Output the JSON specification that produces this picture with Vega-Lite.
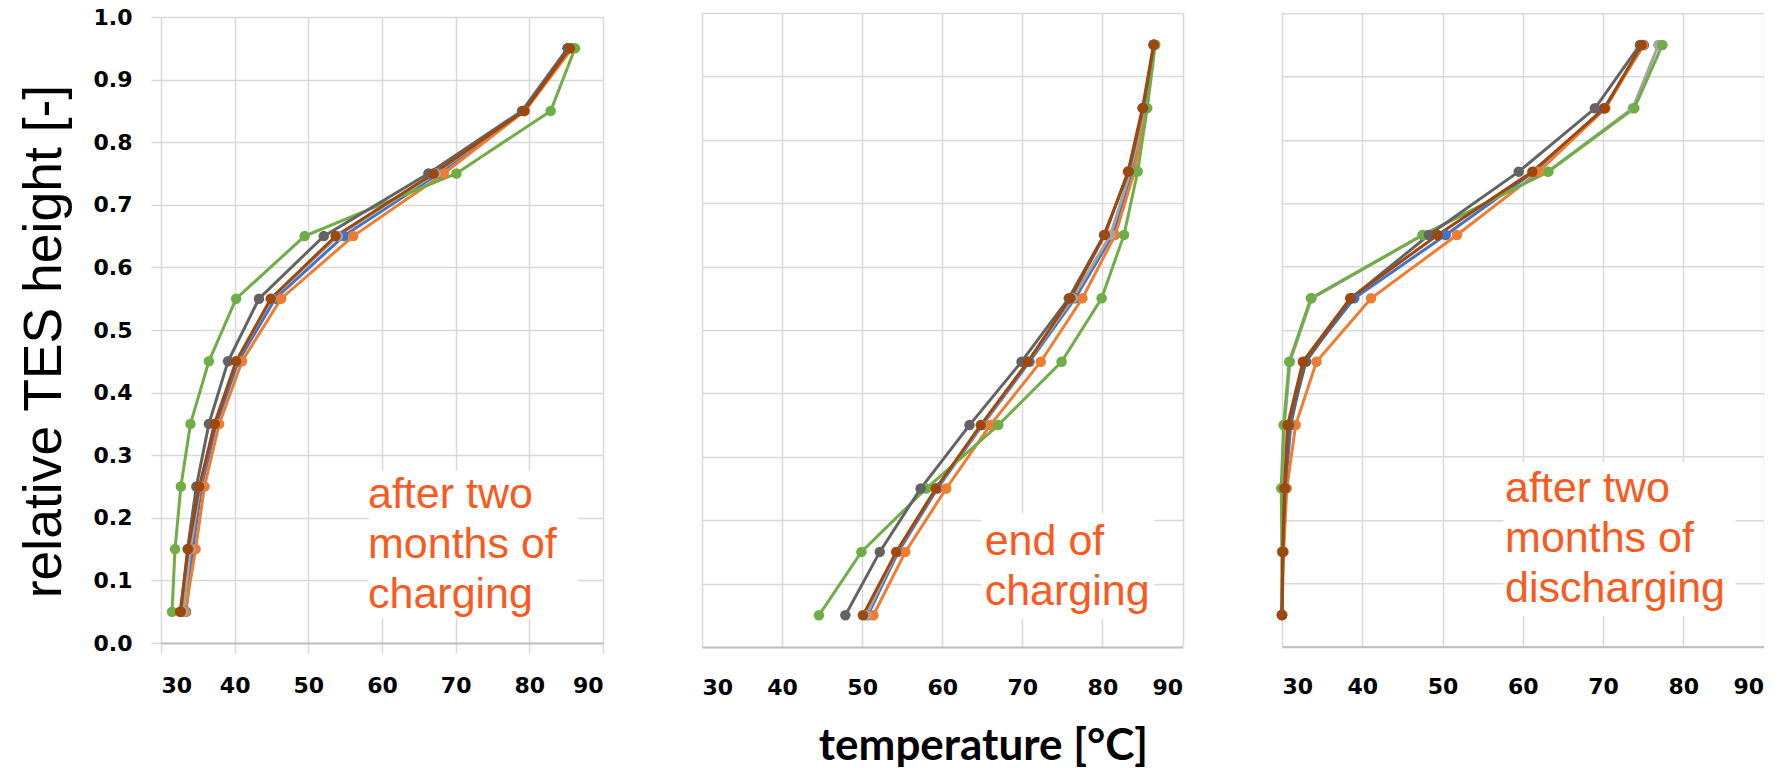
{
  "$schema": "https://vega.github.io/schema/vega-lite/v6.json",
  "background": "white",
  "padding": {"left": 17, "top": 6, "right": 0, "bottom": 0},
  "bounds": "flush",
  "center": true,
  "spacing": 99,
  "datasets": {
    "p1": [
      {"s":"S1","h":0.05,"t":33.4},{"s":"S1","h":0.15,"t":34.3},{"s":"S1","h":0.25,"t":35.5},{"s":"S1","h":0.35,"t":37.5},{"s":"S1","h":0.45,"t":40.5},{"s":"S1","h":0.55,"t":45.5},{"s":"S1","h":0.65,"t":54.8},{"s":"S1","h":0.75,"t":67.7},{"s":"S1","h":0.85,"t":79.2},{"s":"S1","h":0.95,"t":85.2},
      {"s":"S2","h":0.05,"t":33.3},{"s":"S2","h":0.15,"t":34.7},{"s":"S2","h":0.25,"t":35.9},{"s":"S2","h":0.35,"t":37.9},{"s":"S2","h":0.45,"t":41.0},{"s":"S2","h":0.55,"t":46.3},{"s":"S2","h":0.65,"t":56.1},{"s":"S2","h":0.75,"t":68.4},{"s":"S2","h":0.85,"t":79.4},{"s":"S2","h":0.95,"t":85.8},
      {"s":"S3","h":0.05,"t":33.0},{"s":"S3","h":0.15,"t":34.0},{"s":"S3","h":0.25,"t":35.3},{"s":"S3","h":0.35,"t":37.2},{"s":"S3","h":0.45,"t":40.2},{"s":"S3","h":0.55,"t":45.0},{"s":"S3","h":0.65,"t":54.0},{"s":"S3","h":0.75,"t":67.3},{"s":"S3","h":0.85,"t":79.2},{"s":"S3","h":0.95,"t":85.3},
      {"s":"S4","h":0.05,"t":31.5},{"s":"S4","h":0.15,"t":31.9},{"s":"S4","h":0.25,"t":32.7},{"s":"S4","h":0.35,"t":34.0},{"s":"S4","h":0.45,"t":36.5},{"s":"S4","h":0.55,"t":40.2},{"s":"S4","h":0.65,"t":49.5},{"s":"S4","h":0.75,"t":70.1},{"s":"S4","h":0.85,"t":82.9},{"s":"S4","h":0.95,"t":86.2},
      {"s":"S5","h":0.05,"t":32.7},{"s":"S5","h":0.15,"t":33.6},{"s":"S5","h":0.25,"t":34.8},{"s":"S5","h":0.35,"t":36.5},{"s":"S5","h":0.45,"t":39.1},{"s":"S5","h":0.55,"t":43.3},{"s":"S5","h":0.65,"t":52.1},{"s":"S5","h":0.75,"t":66.3},{"s":"S5","h":0.85,"t":79.0},{"s":"S5","h":0.95,"t":85.2},
      {"s":"S6","h":0.05,"t":32.6},{"s":"S6","h":0.15,"t":33.7},{"s":"S6","h":0.25,"t":35.2},{"s":"S6","h":0.35,"t":37.3},{"s":"S6","h":0.45,"t":40.2},{"s":"S6","h":0.55,"t":44.9},{"s":"S6","h":0.65,"t":53.7},{"s":"S6","h":0.75,"t":67.0},{"s":"S6","h":0.85,"t":79.3},{"s":"S6","h":0.95,"t":85.5}
    ],
    "p2": [
      {"s":"S1","h":0.05,"t":50.7},{"s":"S1","h":0.15,"t":54.5},{"s":"S1","h":0.25,"t":59.4},{"s":"S1","h":0.35,"t":65.0},{"s":"S1","h":0.45,"t":70.9},{"s":"S1","h":0.55,"t":76.6},{"s":"S1","h":0.65,"t":81.3},{"s":"S1","h":0.75,"t":83.8},{"s":"S1","h":0.85,"t":85.3},{"s":"S1","h":0.95,"t":86.4},
      {"s":"S2","h":0.05,"t":51.4},{"s":"S2","h":0.15,"t":55.4},{"s":"S2","h":0.25,"t":60.5},{"s":"S2","h":0.35,"t":66.0},{"s":"S2","h":0.45,"t":72.3},{"s":"S2","h":0.55,"t":77.5},{"s":"S2","h":0.65,"t":81.6},{"s":"S2","h":0.75,"t":84.0},{"s":"S2","h":0.85,"t":85.4},{"s":"S2","h":0.95,"t":86.5},
      {"s":"S3","h":0.05,"t":50.5},{"s":"S3","h":0.15,"t":54.3},{"s":"S3","h":0.25,"t":59.2},{"s":"S3","h":0.35,"t":64.9},{"s":"S3","h":0.45,"t":70.7},{"s":"S3","h":0.55,"t":76.3},{"s":"S3","h":0.65,"t":81.0},{"s":"S3","h":0.75,"t":83.5},{"s":"S3","h":0.85,"t":85.2},{"s":"S3","h":0.95,"t":86.4},
      {"s":"S4","h":0.05,"t":44.6},{"s":"S4","h":0.15,"t":49.9},{"s":"S4","h":0.25,"t":58.0},{"s":"S4","h":0.35,"t":67.0},{"s":"S4","h":0.45,"t":74.9},{"s":"S4","h":0.55,"t":79.9},{"s":"S4","h":0.65,"t":82.7},{"s":"S4","h":0.75,"t":84.4},{"s":"S4","h":0.85,"t":85.6},{"s":"S4","h":0.95,"t":86.6},
      {"s":"S5","h":0.05,"t":47.9},{"s":"S5","h":0.15,"t":52.2},{"s":"S5","h":0.25,"t":57.3},{"s":"S5","h":0.35,"t":63.4},{"s":"S5","h":0.45,"t":69.9},{"s":"S5","h":0.55,"t":75.8},{"s":"S5","h":0.65,"t":80.2},{"s":"S5","h":0.75,"t":83.3},{"s":"S5","h":0.85,"t":85.1},{"s":"S5","h":0.95,"t":86.4},
      {"s":"S6","h":0.05,"t":50.1},{"s":"S6","h":0.15,"t":54.25},{"s":"S6","h":0.25,"t":59.2},{"s":"S6","h":0.35,"t":64.8},{"s":"S6","h":0.45,"t":70.7},{"s":"S6","h":0.55,"t":76.0},{"s":"S6","h":0.65,"t":80.3},{"s":"S6","h":0.75,"t":83.2},{"s":"S6","h":0.85,"t":85.0},{"s":"S6","h":0.95,"t":86.4}
    ],
    "p3": [
      {"s":"S1","h":0.05,"t":30.0},{"s":"S1","h":0.15,"t":30.1},{"s":"S1","h":0.25,"t":30.4},{"s":"S1","h":0.35,"t":31.1},{"s":"S1","h":0.45,"t":32.8},{"s":"S1","h":0.55,"t":39.0},{"s":"S1","h":0.65,"t":50.4},{"s":"S1","h":0.75,"t":61.4},{"s":"S1","h":0.85,"t":70.1},{"s":"S1","h":0.95,"t":75.1},
      {"s":"S2","h":0.05,"t":30.0},{"s":"S2","h":0.15,"t":30.2},{"s":"S2","h":0.25,"t":30.6},{"s":"S2","h":0.35,"t":31.7},{"s":"S2","h":0.45,"t":34.3},{"s":"S2","h":0.55,"t":41.1},{"s":"S2","h":0.65,"t":51.8},{"s":"S2","h":0.75,"t":62.0},{"s":"S2","h":0.85,"t":70.3},{"s":"S2","h":0.95,"t":75.0},
      {"s":"S3","h":0.05,"t":30.0},{"s":"S3","h":0.15,"t":30.0},{"s":"S3","h":0.25,"t":30.0},{"s":"S3","h":0.35,"t":30.3},{"s":"S3","h":0.45,"t":31.0},{"s":"S3","h":0.55,"t":33.7},{"s":"S3","h":0.65,"t":47.6},{"s":"S3","h":0.75,"t":63.1},{"s":"S3","h":0.85,"t":73.7},{"s":"S3","h":0.95,"t":76.9},
      {"s":"S4","h":0.05,"t":30.0},{"s":"S4","h":0.15,"t":30.0},{"s":"S4","h":0.25,"t":29.9},{"s":"S4","h":0.35,"t":30.2},{"s":"S4","h":0.45,"t":30.9},{"s":"S4","h":0.55,"t":33.6},{"s":"S4","h":0.65,"t":47.5},{"s":"S4","h":0.75,"t":63.2},{"s":"S4","h":0.85,"t":73.9},{"s":"S4","h":0.95,"t":77.4},
      {"s":"S5","h":0.05,"t":30.0},{"s":"S5","h":0.15,"t":30.1},{"s":"S5","h":0.25,"t":30.4},{"s":"S5","h":0.35,"t":30.9},{"s":"S5","h":0.45,"t":33.0},{"s":"S5","h":0.55,"t":38.6},{"s":"S5","h":0.65,"t":48.3},{"s":"S5","h":0.75,"t":59.5},{"s":"S5","h":0.85,"t":69.0},{"s":"S5","h":0.95,"t":74.6},
      {"s":"S6","h":0.05,"t":30.0},{"s":"S6","h":0.15,"t":30.1},{"s":"S6","h":0.25,"t":30.3},{"s":"S6","h":0.35,"t":30.7},{"s":"S6","h":0.45,"t":32.6},{"s":"S6","h":0.55,"t":38.5},{"s":"S6","h":0.65,"t":49.4},{"s":"S6","h":0.75,"t":61.2},{"s":"S6","h":0.85,"t":70.2},{"s":"S6","h":0.95,"t":74.8}
    ],
    "ann1": [{"x1": 58.2, "x2": 86.6, "y1": 0.04, "y2": 0.275, "tx": 58.1, "ty": 0.216, "label": "after two\nmonths of\ncharging"}],
    "ann2": [{"x1": 64.9, "x2": 86.5, "y1": 0.044, "y2": 0.211, "tx": 65.3, "ty": 0.145, "label": "end of\ncharging"}],
    "ann3": [{"x1": 57.6, "x2": 86.5, "y1": 0.048, "y2": 0.292, "tx": 57.8, "ty": 0.228, "label": "after two\nmonths of\ndischarging"}]
  },
  "config": {
    "view": {"stroke": null},
    "axis": {
      "gridColor": "#D9D9D9",
      "gridWidth": 1.5,
      "labelFont": "DejaVu Sans",
      "labelFontWeight": "bold",
      "labelFontSize": 22,
      "labelColor": "#000000"
    },
    "line": {"strokeWidth": 3},
    "point": {"filled": true, "size": 110, "opacity": 1}
  },
  "hconcat": [
    {
      "width": 442,
      "height": 626,
      "layer": [
        {
          "data": {"name": "ann1"},
          "mark": {"type": "rect", "fill": "white"},
          "encoding": {
            "x": {"field": "x1", "type": "quantitative"},
            "x2": {"field": "x2"},
            "y": {"field": "y1", "type": "quantitative"},
            "y2": {"field": "y2"}
          }
        },
        {
          "data": {"name": "p1"},
          "mark": "line",
          "encoding": {
            "x": {"field": "t", "type": "quantitative", "scale": {"domain": [30, 90], "nice": false, "zero": false},
              "axis": {"values": [30,40,50,60,70,80,90], "title": null, "domainColor": "#BFBFBF", "domainWidth": 2, "ticks": true, "tickColor": "#D9D9D9", "tickWidth": 1.5, "tickSize": 10, "labelPadding": 22}},
            "y": {"field": "h", "type": "quantitative", "scale": {"domain": [0, 1], "nice": false},
              "axis": {"values": [0,0.1,0.2,0.3,0.4,0.5,0.6,0.7,0.8,0.9,1.0], "format": ".1f", "domain": false, "ticks": true, "tickColor": "#D9D9D9", "tickWidth": 1.5, "tickSize": 10, "labelPadding": 19,
                "title": "relative TES height [-]", "titleFont": "Liberation Sans", "titleFontSize": 53.5, "titleFontWeight": "normal", "titleColor": "#000000", "titlePadding": 22, "titleY": 324}},
            "color": {"field": "s", "type": "nominal", "legend": null,
              "scale": {"domain": ["S1","S2","S3","S4","S5","S6"], "range": ["#4472C4","#ED7D31","#A5A5A5","#70AD47","#636363","#9E480E"]}},
            "order": {"field": "h", "type": "quantitative"}
          }
        },
        {
          "data": {"name": "p1"},
          "mark": "point",
          "encoding": {
            "x": {"field": "t", "type": "quantitative"},
            "y": {"field": "h", "type": "quantitative"},
            "color": {"field": "s", "type": "nominal", "legend": null}
          }
        },
        {
          "data": {"name": "ann1"},
          "mark": {"type": "text", "align": "left", "baseline": "alphabetic", "font": "Liberation Sans", "fontSize": 43, "lineHeight": 50, "lineBreak": "\n", "color": "#FA5A1E"},
          "encoding": {
            "x": {"field": "tx", "type": "quantitative"},
            "y": {"field": "ty", "type": "quantitative"},
            "text": {"field": "label"}
          }
        }
      ]
    },
    {
      "width": 480.5,
      "height": 634,
      "layer": [
        {
          "data": {"name": "ann2"},
          "mark": {"type": "rect", "fill": "white"},
          "encoding": {
            "x": {"field": "x1", "type": "quantitative"},
            "x2": {"field": "x2"},
            "y": {"field": "y1", "type": "quantitative"},
            "y2": {"field": "y2"}
          }
        },
        {
          "data": {"name": "p2"},
          "mark": "line",
          "encoding": {
            "x": {"field": "t", "type": "quantitative", "scale": {"domain": [30, 90], "nice": false, "zero": false},
              "axis": {"values": [30,40,50,60,70,80,90], "domainColor": "#BFBFBF", "domainWidth": 2, "ticks": false, "labelPadding": 30,
                "title": "temperature [°C]", "titleFont": "Lato", "titleFontSize": 44, "titleFontWeight": "bold", "titleColor": "#000000",
                "titleX": 281, "titleY": 112, "titleAlign": "center", "titleBaseline": "alphabetic"}},
            "y": {"field": "h", "type": "quantitative", "scale": {"domain": [0, 1], "nice": false},
              "axis": {"values": [0,0.1,0.2,0.3,0.4,0.5,0.6,0.7,0.8,0.9,1.0], "labels": false, "ticks": false, "domain": false, "title": null}},
            "color": {"field": "s", "type": "nominal", "legend": null,
              "scale": {"domain": ["S1","S2","S3","S4","S5","S6"], "range": ["#4472C4","#ED7D31","#A5A5A5","#70AD47","#636363","#9E480E"]}},
            "order": {"field": "h", "type": "quantitative"}
          }
        },
        {
          "data": {"name": "p2"},
          "mark": "point",
          "encoding": {
            "x": {"field": "t", "type": "quantitative"},
            "y": {"field": "h", "type": "quantitative"},
            "color": {"field": "s", "type": "nominal", "legend": null}
          }
        },
        {
          "data": {"name": "ann2"},
          "mark": {"type": "text", "align": "left", "baseline": "alphabetic", "font": "Liberation Sans", "fontSize": 43, "lineHeight": 50, "lineBreak": "\n", "color": "#FA5A1E"},
          "encoding": {
            "x": {"field": "tx", "type": "quantitative"},
            "y": {"field": "ty", "type": "quantitative"},
            "text": {"field": "label"}
          }
        }
      ]
    },
    {
      "width": 481.5,
      "height": 633.4,
      "layer": [
        {
          "data": {"name": "ann3"},
          "mark": {"type": "rect", "fill": "white"},
          "encoding": {
            "x": {"field": "x1", "type": "quantitative"},
            "x2": {"field": "x2"},
            "y": {"field": "y1", "type": "quantitative"},
            "y2": {"field": "y2"}
          }
        },
        {
          "data": {"name": "p3"},
          "mark": "line",
          "encoding": {
            "x": {"field": "t", "type": "quantitative", "scale": {"domain": [30, 90], "nice": false, "zero": false},
              "axis": {"values": [30,40,50,60,70,80,90], "title": null, "domainColor": "#BFBFBF", "domainWidth": 2, "ticks": false, "labelPadding": 30}},
            "y": {"field": "h", "type": "quantitative", "scale": {"domain": [0, 1], "nice": false},
              "axis": {"values": [0,0.1,0.2,0.3,0.4,0.5,0.6,0.7,0.8,0.9,1.0], "labels": false, "ticks": false, "domain": false, "title": null}},
            "color": {"field": "s", "type": "nominal", "legend": null,
              "scale": {"domain": ["S1","S2","S3","S4","S5","S6"], "range": ["#4472C4","#ED7D31","#A5A5A5","#70AD47","#636363","#9E480E"]}},
            "order": {"field": "h", "type": "quantitative"}
          }
        },
        {
          "data": {"name": "p3"},
          "mark": "point",
          "encoding": {
            "x": {"field": "t", "type": "quantitative"},
            "y": {"field": "h", "type": "quantitative"},
            "color": {"field": "s", "type": "nominal", "legend": null}
          }
        },
        {
          "data": {"name": "ann3"},
          "mark": {"type": "text", "align": "left", "baseline": "alphabetic", "font": "Liberation Sans", "fontSize": 43, "lineHeight": 50, "lineBreak": "\n", "color": "#FA5A1E"},
          "encoding": {
            "x": {"field": "tx", "type": "quantitative"},
            "y": {"field": "ty", "type": "quantitative"},
            "text": {"field": "label"}
          }
        }
      ]
    }
  ]
}
